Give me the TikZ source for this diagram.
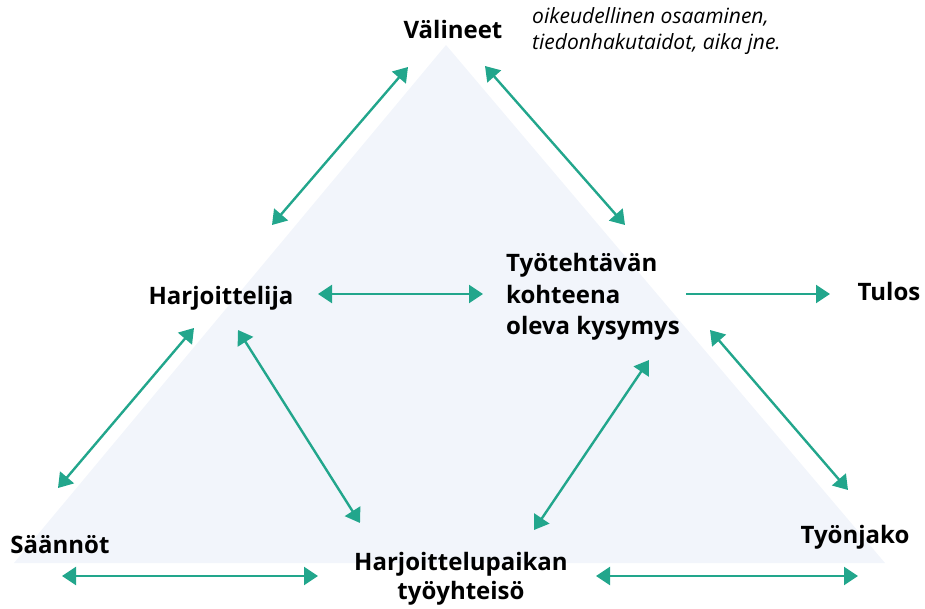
\documentclass[tikz,border=0pt]{standalone}
\usepackage{fontspec}
\setmainfont{Open Sans}
\usetikzlibrary{arrows.meta}
\definecolor{teal1}{HTML}{22A68C}
\definecolor{trifill}{HTML}{F2F5FB}
\tikzset{
  lbl/.style={font=\bfseries\fontsize{24}{28}\selectfont, inner sep=0pt},
  note/.style={font=\itshape\fontsize{21}{26}\selectfont, inner sep=0pt, align=left},
  link/.style={draw=teal1, line width=2.4pt, {Triangle[length=14pt,width=18pt]}-{Triangle[length=14pt,width=18pt]}},
  onelink/.style={draw=teal1, line width=2.4pt, -{Triangle[length=14pt,width=18pt]}},
}
\begin{document}
\begin{tikzpicture}[x=1pt,y=-1pt]
\useasboundingbox (0,0) rectangle (925,609);
\fill[trifill] (446,45) -- (885,563) -- (14,563) -- cycle;

\node[lbl] (val) at (453,30) {Välineet};
\node[note, anchor=west] (notes) at (532,31) {oikeudellinen osaaminen,\\tiedonhakutaidot, aika jne.};
\node[lbl] (harj) at (221,298) {Harjoittelija};
\node[lbl, align=left, anchor=west, font=\bfseries\fontsize{24}{31.5}\selectfont] (tyot) at (506,297) {Työtehtävän\\kohteena\\oleva kysymys};
\node[lbl] (tulos) at (889,292) {Tulos};
\node[lbl] (saan) at (60,545) {Säännöt};
\node[lbl, align=center, font=\bfseries\fontsize{24}{29}\selectfont] (yht) at (461,579) {Harjoittelupaikan\\työyhteisö};
\node[lbl] (tyonj) at (855,537) {Työnjako};

\coordinate (a1s) at (408,67);  \coordinate (a1e) at (272,225);
\coordinate (a2s) at (485,66);  \coordinate (a2e) at (625,225);
\coordinate (a3s) at (318,294); \coordinate (a3e) at (483,294);
\coordinate (a4s) at (686,294); \coordinate (a4e) at (830,294);
\coordinate (a5s) at (194,328); \coordinate (a5e) at (58,488);
\coordinate (a6s) at (238,330); \coordinate (a6e) at (360,523);
\coordinate (a7s) at (649,360); \coordinate (a7e) at (534,530);
\coordinate (a8s) at (710,330); \coordinate (a8e) at (848,490);
\coordinate (a9s) at (62,576);  \coordinate (a9e) at (318,576);
\coordinate (a10s) at (596,576); \coordinate (a10e) at (858,576);

\draw[link] (a1s) -- (a1e);
\draw[link] (a2s) -- (a2e);
\draw[link] (a3s) -- (a3e);
\draw[onelink] (a4s) -- (a4e);
\draw[link] (a5s) -- (a5e);
\draw[link] (a6s) -- (a6e);
\draw[link] (a7s) -- (a7e);
\draw[link] (a8s) -- (a8e);
\draw[link] (a9s) -- (a9e);
\draw[link] (a10s) -- (a10e);
\end{tikzpicture}
\end{document}
